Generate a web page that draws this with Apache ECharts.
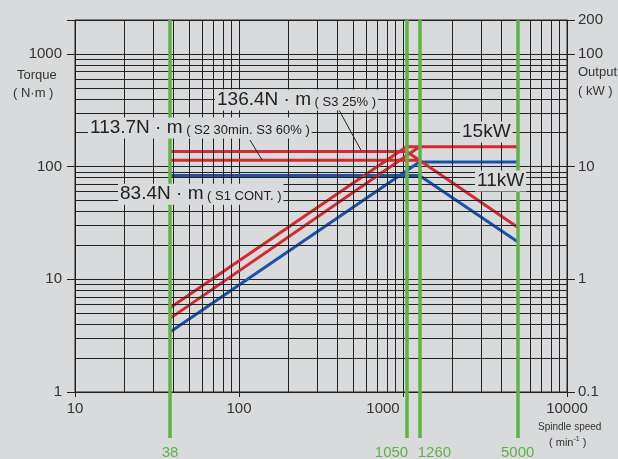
<!DOCTYPE html>
<html>
<head>
<meta charset="utf-8">
<script src="https://cdn.jsdelivr.net/npm/echarts@6/dist/echarts.min.js"></script>
<style>
html, body { margin: 0; padding: 0; background: #d9dadc; }
#chart { width: 618px; height: 459px; }
</style>
</head>
<body>
<div id="chart"></div>
<script>
// spindle speed marks (min-1)
var markSpeeds = [38, 1050, 1260, 5000];
// torque curves, N·m
var torqueS1 = [[38, 83.4], [1260, 83.4], [5000, 21.5]];
var torqueS2 = [[38, 113.7], [1260, 113.7], [5000, 29]];
var torqueS3 = [[38, 136.4], [1050, 136.4], [1260, 113.7]];
// output curves, kW
var powerS1 = [[38, 0.34], [1260, 11], [5000, 11]];
var powerS2 = [[38, 0.45], [1260, 15], [5000, 15]];
var powerS3 = [[38, 0.56], [1050, 15], [1260, 15]];
// minor grid lines
var minorX = [20, 30, 40, 50, 60, 70, 80, 90, 200, 300, 400, 500, 600, 700, 800, 900,
	2000, 3000, 4000, 5000, 6000, 7000, 8000, 9000];
var minorY = [2, 3, 4, 5, 6, 7, 8, 9, 20, 30, 40, 50, 60, 70, 80, 90,
	200, 300, 400, 500, 600, 700, 800, 900];

var RED = '#d42a30', BLUE = '#1a53a8', GREEN = '#5fb246', BG = '#d9dadc', INK = '#222';
var FONT = '"Liberation Sans", Arial, sans-serif';

function curve(data, color, yIdx) {
	return {
		type: 'line', xAxisIndex: 0, yAxisIndex: yIdx, data: data,
		symbol: 'none', z: 3, silent: true,
		lineStyle: { color: color, width: 3 }
	};
}

function note(x, y, big, small) {
	return {
		coord: [x, y], symbol: 'circle', symbolSize: 0,
		label: {
			show: true, position: 'right', distance: 0,
			backgroundColor: BG, padding: [1, 2],
			formatter: small ? '{a|' + big + '}{b|' + small + '}' : '{a|' + big + '}',
			rich: {
				a: { fontSize: 19, color: INK, fontFamily: FONT },
				b: { fontSize: 13, color: INK, fontFamily: FONT, padding: [4, 0, 0, 0] }
			}
		}
	};
}

var option = {
	backgroundColor: BG,
	animation: false,
	grid: [
		{ left: 75, right: 51, top: 20, bottom: 67, show: true, borderColor: INK, borderWidth: 1, backgroundColor: 'transparent' },
		{ left: 75, right: 51, top: 20, bottom: 21, show: false }
	],
	xAxis: [
		{
			type: 'log', logBase: 10, min: 10, max: 10000, gridIndex: 0,
			axisLine: { lineStyle: { color: INK } },
			axisTick: { show: true, length: 5, lineStyle: { color: INK } },
			splitLine: { show: true, lineStyle: { color: INK, width: 1 } },
			axisLabel: {
				margin: 9, color: '#333', fontSize: 15, fontFamily: FONT,
				formatter: function (v) {
					var s = String(Math.round(v));
					return s === '1000' ? '{s|' + s + '}' : '{n|' + s + '}';
				},
				rich: {
					n: { fontSize: 15, color: '#333', fontFamily: FONT },
					s: { fontSize: 15, color: '#333', fontFamily: FONT, padding: [0, 40, 0, 0] }
				}
			}
		},
		{ type: 'log', logBase: 10, min: 10, max: 10000, gridIndex: 1, show: false }
	],
	yAxis: [
		{
			type: 'log', logBase: 10, min: 1, max: 2000, gridIndex: 0, position: 'left',
			axisLine: { show: true, lineStyle: { color: INK } },
			axisTick: { show: true, length: 8, lineStyle: { color: INK } },
			splitLine: { show: true, lineStyle: { color: INK, width: 1 } },
			axisLabel: {
				margin: 13, color: '#333', fontSize: 15, fontFamily: FONT,
				formatter: function (v) { return v > 1500 ? '' : String(Math.round(v)); }
			}
		},
		{
			type: 'log', logBase: 10, min: 0.1, max: 200, gridIndex: 0, position: 'right',
			axisLine: { show: true, lineStyle: { color: INK } },
			axisTick: { show: true, length: 8, lineStyle: { color: INK } },
			splitLine: { show: false },
			axisLabel: {
				margin: 11, color: '#333', fontSize: 15, fontFamily: FONT,
				formatter: function (v) { return String(Number(v.toPrecision(2))); }
			}
		},
		{ type: 'value', min: 0, max: 1, gridIndex: 1, show: false }
	],
	series: [
		{
			// minor log grid
			type: 'line', xAxisIndex: 0, yAxisIndex: 0, data: [], z: 0, silent: true,
			markLine: {
				silent: true, symbol: 'none', animation: false,
				label: { show: false },
				lineStyle: { color: INK, width: 1, type: 'solid' },
				data: minorX.map(function (v) { return { xAxis: v }; })
					.concat(minorY.map(function (v) { return { yAxis: v }; }))
			}
		},
		{
			// green speed marks
			type: 'line', xAxisIndex: 1, yAxisIndex: 2, data: [], z: 1, silent: true,
			markLine: {
				silent: true, symbol: 'none', animation: false,
				lineStyle: { color: GREEN, width: 3.5, type: 'solid' },
				label: {
					show: true, position: 'start', distance: 7,
					color: GREEN, fontSize: 15, fontFamily: FONT,
					formatter: function (p) { return String(p.value); }
				},
				data: markSpeeds.map(function (v) {
					var d = { xAxis: v };
					if (v === 1050) d.label = { offset: [-15, 0] };
					if (v === 1260) d.label = { offset: [15, 0] };
					return d;
				})
			}
		},
		curve(torqueS1, BLUE, 0),
		curve(powerS1, BLUE, 1),
		curve(torqueS2, RED, 0),
		curve(torqueS3, RED, 0),
		curve(powerS2, RED, 1),
		curve(powerS3, RED, 1),
		{
			// annotations
			type: 'line', xAxisIndex: 0, yAxisIndex: 0, data: [], z: 5, silent: true,
			markLine: {
				silent: true, symbol: 'none', animation: false, label: { show: false },
				lineStyle: { color: INK, width: 1, type: 'solid' },
				data: [
					[{ coord: [407, 318] }, { coord: [554, 140] }],
					[{ coord: [116.7, 172] }, { coord: [138, 115] }]
				]
			},
			markPoint: {
				silent: true, animation: false,
				data: [
					note(71.4, 390, '136.4N · m', ' ( S3 25% )'),
					note(12.0, 220, '113.7N · m', ' ( S2 30min. S3 60% )'),
					note(18.3, 57, '83.4N · m', ' ( S1 CONT. )'),
					note(2227, 203, '15kW'),
					note(2748, 74.5, '11kW')
				]
			}
		}
	],
	graphic: [
		{ type: 'text', left: 17, top: 69, style: { text: 'Torque', fontSize: 13, fill: '#333', font: '13px ' + FONT } },
		{ type: 'text', left: 13, top: 87, style: { text: '( N·m )', fill: '#333', font: '13px ' + FONT } },
		{ type: 'text', left: 578, top: 66, style: { text: 'Output', fill: '#333', font: '13px ' + FONT } },
		{ type: 'text', left: 578, top: 85, style: { text: '( kW )', fill: '#333', font: '13px ' + FONT } },
		{ type: 'text', left: 538, top: 422, style: { text: 'Spindle speed', fill: '#333', font: '10px ' + FONT } },
		{
			type: 'text', left: 549, top: 436,
			style: {
				text: '( min{s|-1} )', fill: '#333', font: '11px ' + FONT,
				rich: { s: { fontSize: 7, fill: '#333', fontFamily: FONT, padding: [0, 0, 6, 0] } }
			}
		}
	]
};

var chart = echarts.init(document.getElementById('chart'));
chart.setOption(option);
</script>
</body>
</html>
